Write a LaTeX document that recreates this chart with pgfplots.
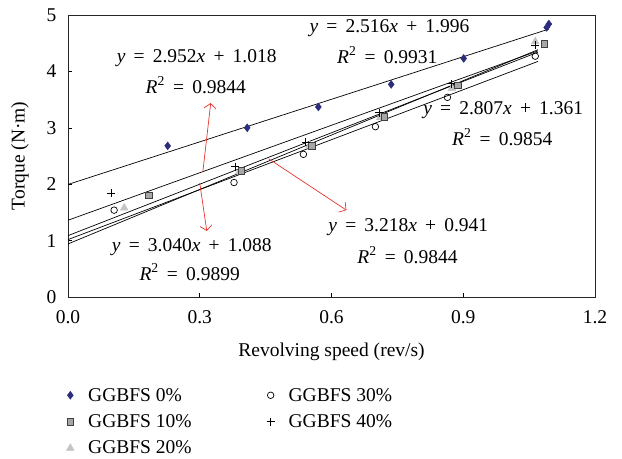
\documentclass[border=0pt]{standalone}
\usepackage{fontspec}
\setmainfont{Liberation Serif}
\usepackage{pgfplots}
\pgfplotsset{compat=1.18}
\usetikzlibrary{arrows.meta}
\definecolor{cNavy}{HTML}{2B2C7C}
\definecolor{cSq}{HTML}{A6A6A6}
\definecolor{cTri}{HTML}{C4C4C4}
\definecolor{cArrow}{HTML}{E8332D}
\newcommand\cf{\fontsize{19.5bp}{23bp}\selectfont}
\newcommand\hs{\hspace{0.42em}}

\begin{document}
\begin{tikzpicture}
\begin{axis}[
  scale only axis,
  width=527bp, height=282bp,
  xmin=0, xmax=1.2, ymin=0, ymax=5,
  xtick={0,0.3,0.6,0.9,1.2},
  ytick={0,1,2,3,4,5},
  tick align=inside,
  xtick pos=bottom, ytick pos=left,
  tick style={black, line width=0.6pt},
  axis line style={line width=0.8pt, black!85},
  tick label style={font=\cf},
  /pgf/number format/assume math mode=true,
  xticklabel style={/pgf/number format/fixed, /pgf/number format/fixed zerofill,
                    /pgf/number format/precision=1, yshift=-10bp},
  yticklabel style={xshift=-8bp},
  xlabel={Revolving speed (rev/s)},
  ylabel={Torque (N·m)},
  every axis x label/.style={at={(axis description cs:0.5,-0.195)}, anchor=center, font=\cf},
  every axis y label/.style={at={(axis description cs:-0.091,0.5)}, rotate=90, anchor=center, font=\cf},
  clip=false,
  legend style={draw=none, fill=none, font=\cf,
    at={(axis description cs:-0.009,-0.308)}, anchor=north west,
    legend columns=2, legend cell align=left,
    /tikz/every odd column/.append style={column sep=12bp},
    /tikz/every even column/.append style={column sep=73bp},
    row sep=8bp},
]

% trend lines
\addplot[black, line width=0.7pt, forget plot] coordinates {(0,1.996)(1.095,4.751)};
\addplot[black, line width=0.7pt, forget plot] coordinates {(0,1.361)(1.07,4.364)};
\addplot[black, line width=0.7pt, forget plot] coordinates {(0,1.088)(1.07,4.341)};
\addplot[black, line width=0.7pt, forget plot] coordinates {(0,1.018)(1.07,4.177)};
\addplot[black, line width=0.7pt, forget plot] coordinates {(0,0.941)(1.07,4.384)};

% GGBFS 20%
\addplot[only marks, mark=triangle*, mark size=4.5pt, color=cTri, forget plot]
  coordinates {(0.128,1.58)(0.39,2.22)(0.55,2.68)(0.711,3.18)(0.874,3.70)(1.064,4.53)};
% GGBFS 10%
\addplot[only marks, mark=square*, mark size=3.2pt, draw=black!75, fill=cSq, forget plot]
  coordinates {(0.184,1.80)(0.395,2.24)(0.555,2.68)(0.720,3.20)(0.887,3.75)(1.084,4.49)};
% GGBFS 30%
\addplot[only marks, mark=o, mark size=3.3pt, black, line width=0.7pt, forget plot]
  coordinates {(0.105,1.54)(0.378,2.03)(0.536,2.53)(0.700,3.02)(0.864,3.54)(1.064,4.27)};
% GGBFS 40%
\addplot[only marks, mark=+, mark size=4pt, black, line width=0.7pt, forget plot]
  coordinates {(0.098,1.84)(0.381,2.31)(0.541,2.75)(0.708,3.27)(0.872,3.78)(1.064,4.47)};
% GGBFS 0%
\addplot[only marks, mark=diamond*, mark size=4pt, cNavy, forget plot]
  coordinates {(0.227,2.68)(0.408,3.00)(0.570,3.37)(0.736,3.77)(0.901,4.23)(1.09,4.78)(1.095,4.84)};

\addlegendimage{only marks, mark=diamond*, mark size=4pt, cNavy}
\addlegendentry{GGBFS 0\%}
\addlegendimage{only marks, mark=o, mark size=3.3pt, black, line width=0.7pt}
\addlegendentry{GGBFS 30\%}
\addlegendimage{only marks, mark=square*, mark size=3.2pt, draw=black!75, fill=cSq}
\addlegendentry{GGBFS 10\%}
\addlegendimage{only marks, mark=+, mark size=4pt, black, line width=0.7pt}
\addlegendentry{GGBFS 40\%}
\addlegendimage{only marks, mark=triangle*, mark size=4.5pt, cTri}
\addlegendentry{GGBFS 20\%}

% arrows
\draw[cArrow, line width=0.7pt, -{Straight Barb[length=5bp, width=12bp]}]
  (axis cs:0.307,2.22) -- (axis cs:0.325,3.44);
\draw[cArrow, line width=0.7pt, -{Straight Barb[length=5bp, width=12bp]}]
  (axis cs:0.300,2.02) -- (axis cs:0.316,1.17);
\draw[cArrow, line width=0.7pt, -{Straight Barb[length=5bp, width=12bp]}]
  (axis cs:0.457,2.45) -- (axis cs:0.634,1.54);

% equations
\node[font=\cf] at (axis cs:0.293,4.238) {\textit{y}\hs=\hs2.952\textit{x}\hs+\hs1.018};
\node[font=\cf] at (axis cs:0.291,3.759) {\textit{R}\textsuperscript{2}\hs=\hs0.9844};
\node[font=\cf] at (axis cs:0.732,4.77) {\textit{y}\hs=\hs2.516\textit{x}\hs+\hs1.996};
\node[font=\cf] at (axis cs:0.727,4.29) {\textit{R}\textsuperscript{2}\hs=\hs0.9931};
\node[font=\cf] at (axis cs:0.991,3.316) {\textit{y}\hs=\hs2.807\textit{x}\hs+\hs1.361};
\node[font=\cf] at (axis cs:0.989,2.837) {\textit{R}\textsuperscript{2}\hs=\hs0.9854};
\node[font=\cf] at (axis cs:0.282,0.887) {\textit{y}\hs=\hs3.040\textit{x}\hs+\hs1.088};
\node[font=\cf] at (axis cs:0.277,0.443) {\textit{R}\textsuperscript{2}\hs=\hs0.9899};
\node[font=\cf] at (axis cs:0.775,1.241) {\textit{y}\hs=\hs3.218\textit{x}\hs+\hs0.941};
\node[font=\cf] at (axis cs:0.773,0.745) {\textit{R}\textsuperscript{2}\hs=\hs0.9844};
\end{axis}
\pgfresetboundingbox
\path[use as bounding box] (-68bp,-162bp) rectangle (554bp,297bp);
\end{tikzpicture}
\end{document}
